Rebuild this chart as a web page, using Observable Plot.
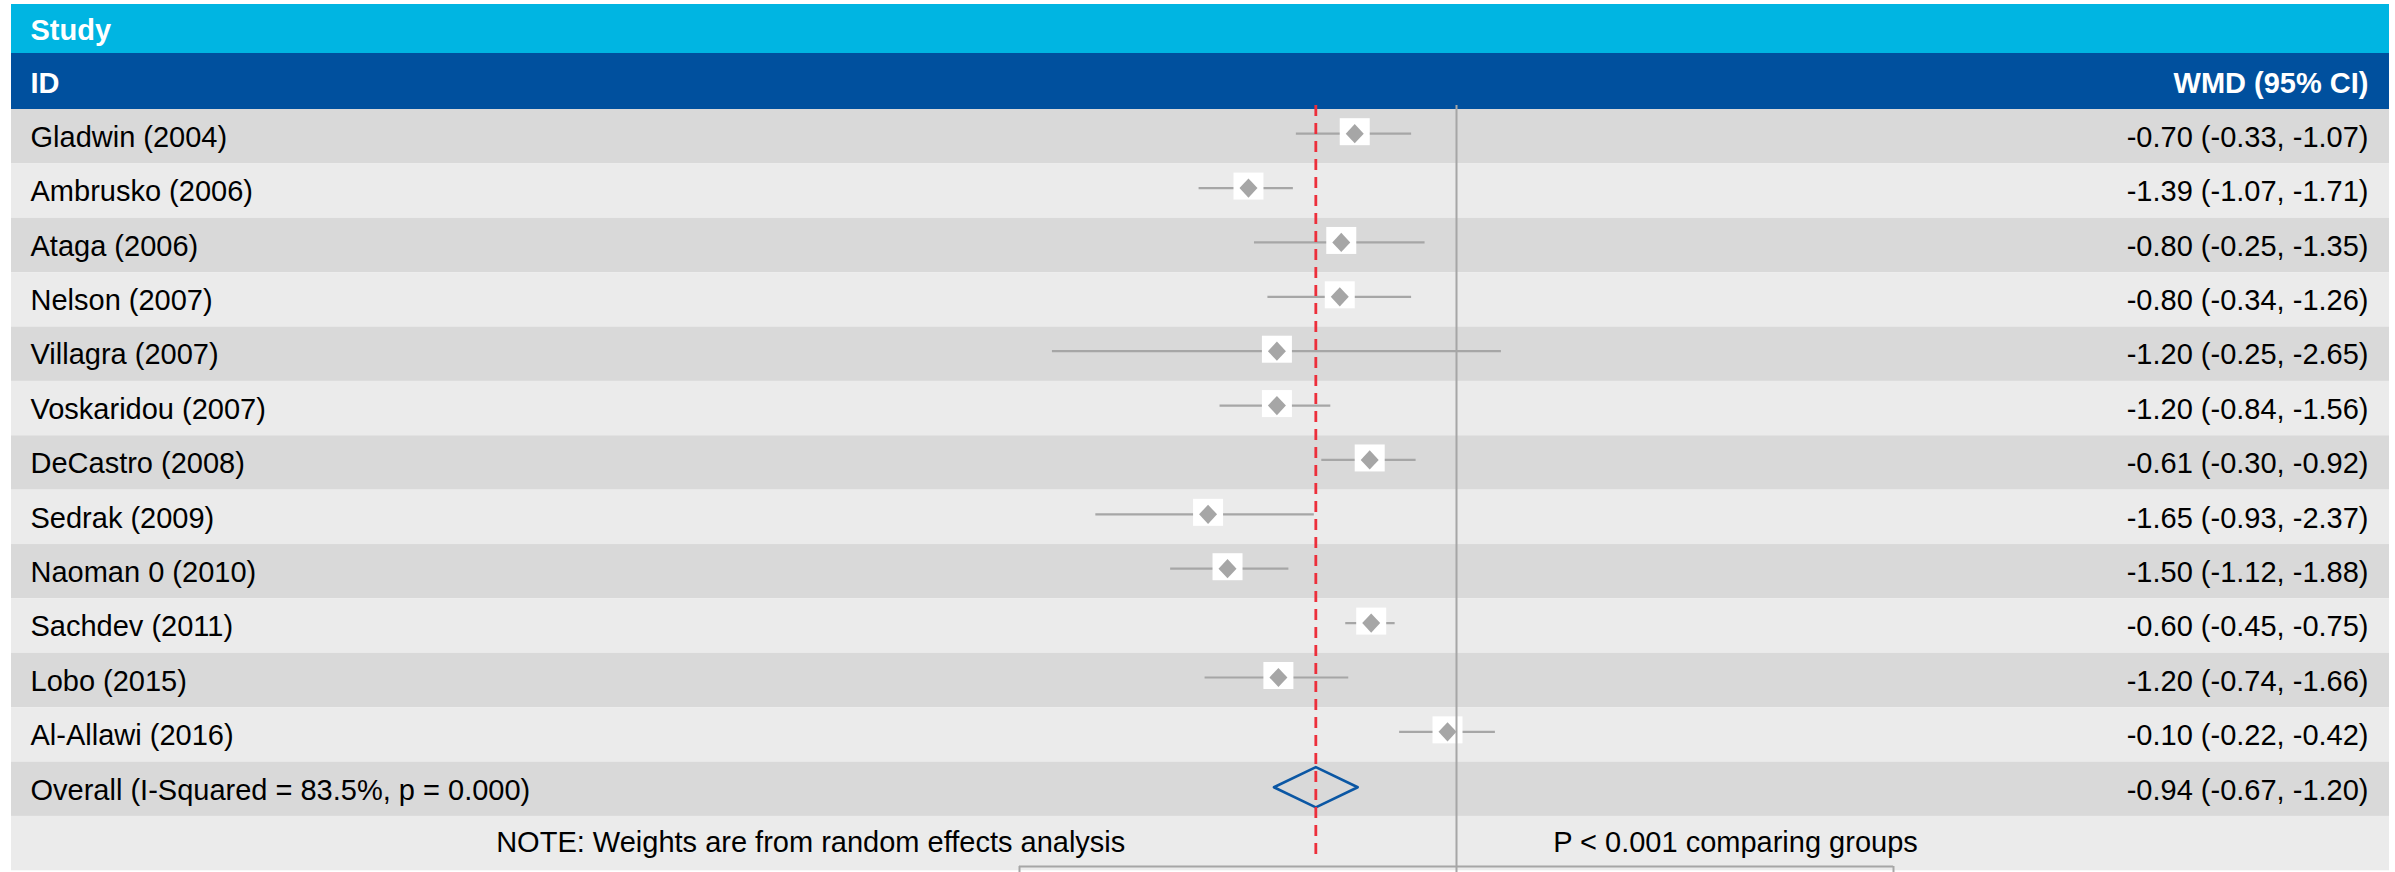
<!DOCTYPE html>
<html><head><meta charset="utf-8">
<script src="https://cdn.jsdelivr.net/npm/d3@7"></script>
<script src="https://cdn.jsdelivr.net/npm/@observablehq/plot@0.6"></script>
<style>html,body{margin:0;padding:0;background:#fff} svg{display:block}</style>
</head><body><div id="chart"></div>
<script>
// ---- data ----
const studies = ["Gladwin (2004)", "Ambrusko (2006)", "Ataga (2006)", "Nelson (2007)", "Villagra (2007)", "Voskaridou (2007)", "DeCastro (2008)", "Sedrak (2009)", "Naoman 0 (2010)", "Sachdev (2011)", "Lobo (2015)", "Al-Allawi (2016)"];
const ciLabels = ["-0.70 (-0.33, -1.07)", "-1.39 (-1.07, -1.71)", "-0.80 (-0.25, -1.35)", "-0.80 (-0.34, -1.26)", "-1.20 (-0.25, -2.65)", "-1.20 (-0.84, -1.56)", "-0.61 (-0.30, -0.92)", "-1.65 (-0.93, -2.37)", "-1.50 (-1.12, -1.88)", "-0.60 (-0.45, -0.75)", "-1.20 (-0.74, -1.66)", "-0.10 (-0.22, -0.42)"];
const est = [-0.68, -1.39, -0.77, -0.78, -1.20, -1.20, -0.58, -1.66, -1.53, -0.57, -1.19, -0.06];
const lo  = [-1.07, -1.72, -1.35, -1.26, -2.70, -1.58, -0.90, -2.41, -1.91, -0.74, -1.68, -0.38];
const hi  = [-0.30, -1.09, -0.21, -0.30, 0.30, -0.84, -0.27, -0.95, -1.12, -0.41, -0.72, 0.26];
const overallLabel = "Overall (I-Squared = 83.5%, p = 0.000)";
const overallCiLabel = "-0.94 (-0.67, -1.20)";
const overallEst = -0.94, overallLo = -1.22, overallHi = -0.66;
const headerTitle = "Study";
const headerLeft = "ID";
const headerRight = "WMD (95% CI)";
const noteLeft = "NOTE: Weights are from random effects analysis";
const noteRight = "P < 0.001 comparing groups";
const nullValue = 0;
const axisDomain = [-2.92, 2.92];

// ---- build ----
const rows = studies.map((s, i) => ({i, name: s, label: ciLabels[i], est: est[i], lo: lo[i], hi: hi[i]}));
const nRows = studies.length + 2; // studies + overall + note
const bands = d3.range(nRows).map(i => ({y1: i, y2: i + 1, fill: i % 2 === 0 ? "#d9d9d9" : "#ebebeb"}));
const oc = studies.length + 0.5;
const ovDiamond = [
  {x: overallLo, y: oc}, {x: overallEst, y: oc - 0.37},
  {x: overallHi, y: oc}, {x: overallEst, y: oc + 0.37}
];

const whiteBox = {draw(ctx) { ctx.moveTo(-15, -15.5); ctx.lineTo(15, -15.5); ctx.lineTo(15, 11.5); ctx.lineTo(-15, 11.5); ctx.closePath(); }};
const grayDiamond = {draw(ctx) { ctx.moveTo(-9, 0); ctx.lineTo(0, -9.6); ctx.lineTo(9, 0); ctx.lineTo(0, 9.6); ctx.closePath(); }};

const font = "'Liberation Sans', Arial, Helvetica, sans-serif";
const fs = 29;
const rowDy = -3;
const noteY = studies.length + 1.5;

const chart = Plot.plot({
  width: 2395, height: 872,
  marginLeft: 11, marginRight: 6, marginTop: 0, marginBottom: 0,
  style: {fontFamily: font, background: "#ffffff"},
  x: {domain: axisDomain, range: [1019, 1893], axis: null},
  y: {domain: [-1.931, 14], range: [4, 870.3], axis: null},
  marks: [
    Plot.rect(bands, {y1: "y1", y2: "y2", fill: "fill"}),
    Plot.rect([{a: -1.931, b: -1.03}], {y1: "a", y2: "b", fill: "#00b5e2"}),
    Plot.rect([{a: -1.03, b: 0}], {y1: "a", y2: "b", fill: "#00509e"}),
    // axis frame top (cut off by bottom edge)
    Plot.ruleY([13.92], {x1: axisDomain[0], x2: axisDomain[1], stroke: "#a6a6a6", strokeWidth: 2}),
    Plot.ruleX(axisDomain, {y1: 13.92, y2: 14.2, stroke: "#a6a6a6", strokeWidth: 2}),
    // CI lines
    Plot.ruleY(rows, {y: d => d.i + 0.5, x1: "lo", x2: "hi", stroke: "#a6a6a6", strokeWidth: 2.2, dy: rowDy}),
    Plot.dot(rows, {x: "est", y: d => d.i + 0.5, symbol: whiteBox, fill: "#ffffff", stroke: null, dy: rowDy}),
    // null line
    Plot.ruleX([nullValue], {y1: -0.074, y2: 14.2, stroke: "#a6a6a6", strokeWidth: 2}),
    Plot.dot(rows, {x: "est", y: d => d.i + 0.5, symbol: grayDiamond, fill: "#a6a6a6", stroke: null, dy: rowDy}),
    // overall diamond
    Plot.line(ovDiamond, {x: "x", y: "y", curve: "linear-closed", stroke: "#0b57a4", strokeWidth: 2.6, fill: "none", dy: -2}),
    // overall effect dashed line
    Plot.ruleX([overallEst], {y1: -0.074, y2: 13.77, stroke: "#ec2f3b", strokeWidth: 2.8, strokeDasharray: "11,7"}),
    // header text
    Plot.text([headerTitle], {text: d => d, y: -1.45, frameAnchor: "left", textAnchor: "start", dx: 19, fill: "#ffffff", fontWeight: "bold", fontSize: fs, lineAnchor: "middle"}),
    Plot.text([headerLeft], {text: d => d, y: -0.48, frameAnchor: "left", textAnchor: "start", dx: 19, fill: "#ffffff", fontWeight: "bold", fontSize: fs, lineAnchor: "middle"}),
    Plot.text([headerRight], {text: d => d, y: -0.48, frameAnchor: "right", textAnchor: "end", dx: -21, fill: "#ffffff", fontWeight: "bold", fontSize: fs, lineAnchor: "middle"}),
    // row text
    Plot.text(rows, {text: "name", y: d => d.i + 0.5, frameAnchor: "left", textAnchor: "start", dx: 19, fill: "#000000", fontSize: fs, lineAnchor: "middle", dy: 1}),
    Plot.text(rows, {text: "label", y: d => d.i + 0.5, frameAnchor: "right", textAnchor: "end", dx: -21, fill: "#000000", fontSize: fs, lineAnchor: "middle", dy: 1}),
    Plot.text([overallLabel], {text: d => d, y: oc, frameAnchor: "left", textAnchor: "start", dx: 19, fill: "#000000", fontSize: fs, lineAnchor: "middle", dy: 1}),
    Plot.text([overallCiLabel], {text: d => d, y: oc, frameAnchor: "right", textAnchor: "end", dx: -21, fill: "#000000", fontSize: fs, lineAnchor: "middle", dy: 1}),
    // notes
    Plot.text([noteLeft], {text: d => d, x: -4.315, y: noteY, textAnchor: "middle", fill: "#000000", fontSize: fs, lineAnchor: "middle", dy: -1}),
    Plot.text([noteRight], {text: d => d, x: 1.864, y: noteY, textAnchor: "middle", fill: "#000000", fontSize: fs, lineAnchor: "middle", dy: -1})
  ]
});
document.getElementById("chart").appendChild(chart);
</script>
</body></html>
